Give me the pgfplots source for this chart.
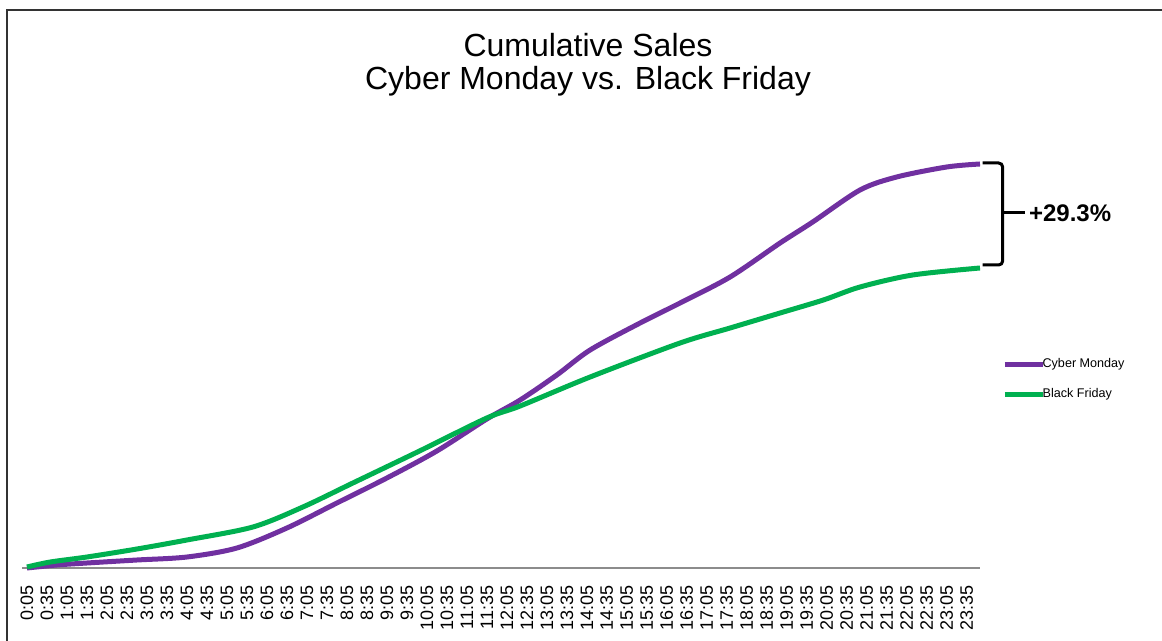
\documentclass[border=0pt]{standalone}
\usepackage{pgfplots}
\pgfplotsset{compat=1.18}
\usepackage{fontspec}
\setmainfont{Liberation Sans}

\definecolor{cmpurple}{HTML}{7030A0}
\definecolor{bfgreen}{HTML}{00B050}

\begin{document}
\begin{tikzpicture}
% page = 1162x641 px at 0.5pt per px, axis box lower left at px (22,568)
\useasboundingbox (-11pt,-36.5pt) rectangle (570pt,284pt);
\draw[line width=0.8pt, black!80] (-7.5pt,-40pt) -- (-7.5pt,279pt) -- (575pt,279pt);
\node[align=center, font=\fontsize{16}{16.5}\selectfont] at (283pt,251.5pt)
  {Cumulative Sales\\Cyber Monday vs. Black Friday};
\begin{axis}[
    at={(0pt,0pt)}, anchor=south west,
    scale only axis,
    width=479pt, height=210pt,
    xmin=-2.5, xmax=1435,
    ymin=0, ymax=420,
    axis x line=bottom,
    axis y line=none,
    x axis line style={-, line width=1pt, black!45},
    xtick={5,35,...,1415},
    xticklabels={0:05,0:35,1:05,1:35,2:05,2:35,3:05,3:35,4:05,4:35,5:05,5:35,
      6:05,6:35,7:05,7:35,8:05,8:35,9:05,9:35,10:05,10:35,11:05,11:35,
      12:05,12:35,13:05,13:35,14:05,14:35,15:05,15:35,16:05,16:35,17:05,17:35,
      18:05,18:35,19:05,19:35,20:05,20:35,21:05,21:35,22:05,22:35,23:05,23:35},
    xticklabel style={rotate=90, anchor=east, inner sep=0pt,
      font=\fontsize{9}{10}\selectfont},
    xticklabel shift=8.5pt,
    major tick length=0pt,
    clip=false,
    legend style={at={(axis cs:1468,211)}, anchor=north west, draw=none,
      fill=none, inner sep=0pt, row sep=7.5pt,
      font=\fontsize{6.3}{7}\selectfont,
      nodes={inner sep=0.6pt}},
    legend cell align=left,
    legend image code/.code={%
      \draw[#1, overlay] (0pt,0pt) -- (19pt,0pt);
      \path (0pt,0pt) -- (17pt,0pt);},
  ]
\addplot[cmpurple, line width=2.5pt, smooth] coordinates {
  (5,0) (50,3) (95,5) (170,8) (245,11) (320,20) (395,40) (470,65)
  (545,90) (620,117) (695,149) (745,168) (800,193) (850,218) (925,245)
  (985,265) (1060,291) (1135,325) (1184,346) (1255,378) (1310,391)
  (1385,401) (1435,404)
};
\addlegendentry{Cyber Monday}
\addplot[bfgreen, line width=2.5pt, smooth] coordinates {
  (5,1) (40,6) (95,11) (170,19) (245,28) (344,41) (419,61) (494,85)
  (594,117) (695,150) (745,162) (850,191) (985,225) (1060,240) (1135,255)
  (1200,268) (1255,281) (1334,293) (1435,300)
};
\addlegendentry{Black Friday}
% bracket showing the gap
\draw[line width=1.5pt, rounded corners=2pt]
  (axis cs:1439,405) -- (axis cs:1469,405) -- (axis cs:1469,303) -- (axis cs:1439,303);
\draw[line width=1.5pt] (axis cs:1469,355) -- (axis cs:1502,355);
\node[anchor=west, inner sep=0pt, font=\bfseries\fontsize{12}{12}\selectfont]
  at (axis cs:1508,355) {+29.3\%};
\end{axis}
\end{tikzpicture}
\end{document}
